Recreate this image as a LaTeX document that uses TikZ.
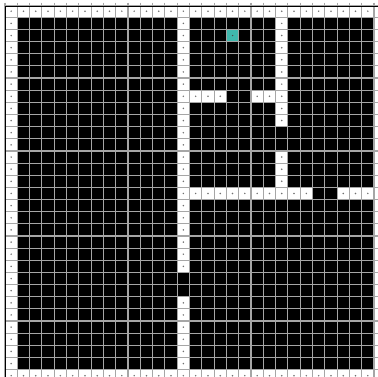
\documentclass[tikz,border=0pt]{standalone}
\usetikzlibrary{positioning}
\begin{document}
\begin{tikzpicture}[x=0.41cm, y=-0.405cm,
    wallcell/.style={fill=wallColor},
    walldot/.style={fill=dotColor},
    gridline/.style={draw=gridColor, line width=1.1pt}]
    % Palette
    \definecolor{floorColor}{HTML}{000000}
    \definecolor{wallColor}{HTML}{FFFFFF}
    \definecolor{dotColor}{HTML}{707070}
    \definecolor{gridColor}{HTML}{A6A6A6}
    \definecolor{agentColor}{HTML}{3FB8AD}

    \useasboundingbox[fill=white] (-0.4065,-0.424) rectangle (30.325,30.605);

    % --- Floor ---
    \fill[floorColor] (0,0) rectangle (31,31);

    % --- Outer walls ---
    \foreach \i in {0,...,30}
        \foreach \c/\r in {\i/0, \i/30, 0/\i, 30/\i} {
            \fill[wallcell] (\c,\r) rectangle ++(1,1);
            \fill[walldot] (\c+0.5,\r+0.5) circle (0.8pt);
        }

    % --- Inner walls ---
    \foreach \c/\r in {14/1,14/2,14/3,14/4,14/5,14/6,14/7,14/8,14/9,14/10,14/11,
                       14/12,14/13,14/14,14/15,14/16,14/17,14/18,14/19,14/20,14/21,
                       14/24,14/25,14/26,14/27,14/28,14/29,
                       15/7,16/7,17/7,20/7,21/7,
                       22/1,22/2,22/3,22/4,22/5,22/6,22/7,22/8,22/9,
                       22/12,22/13,22/14,
                       15/15,16/15,17/15,18/15,19/15,20/15,21/15,22/15,23/15,24/15,
                       27/15,28/15,29/15} {
        \fill[wallcell] (\c,\r) rectangle ++(1,1);
        \fill[walldot] (\c+0.5,\r+0.5) circle (0.8pt);
    }

    % --- Agent ---
    \fill[agentColor] (18,2) rectangle ++(1,1);
    \fill[black!70] (18.5,2.5) circle (0.7pt);

    % --- Grid ---
    \foreach \k in {0,...,31} {
        \draw[gridline] (\k,-0.2) -- (\k,31);
        \draw[gridline] (0,\k) -- (31,\k);
    }

    % Frame
    \draw[black, line width=1.1pt] (0.06,30.605) -- (0.06,0.12) -- (30.325,0.12);

\end{tikzpicture}
\end{document}
